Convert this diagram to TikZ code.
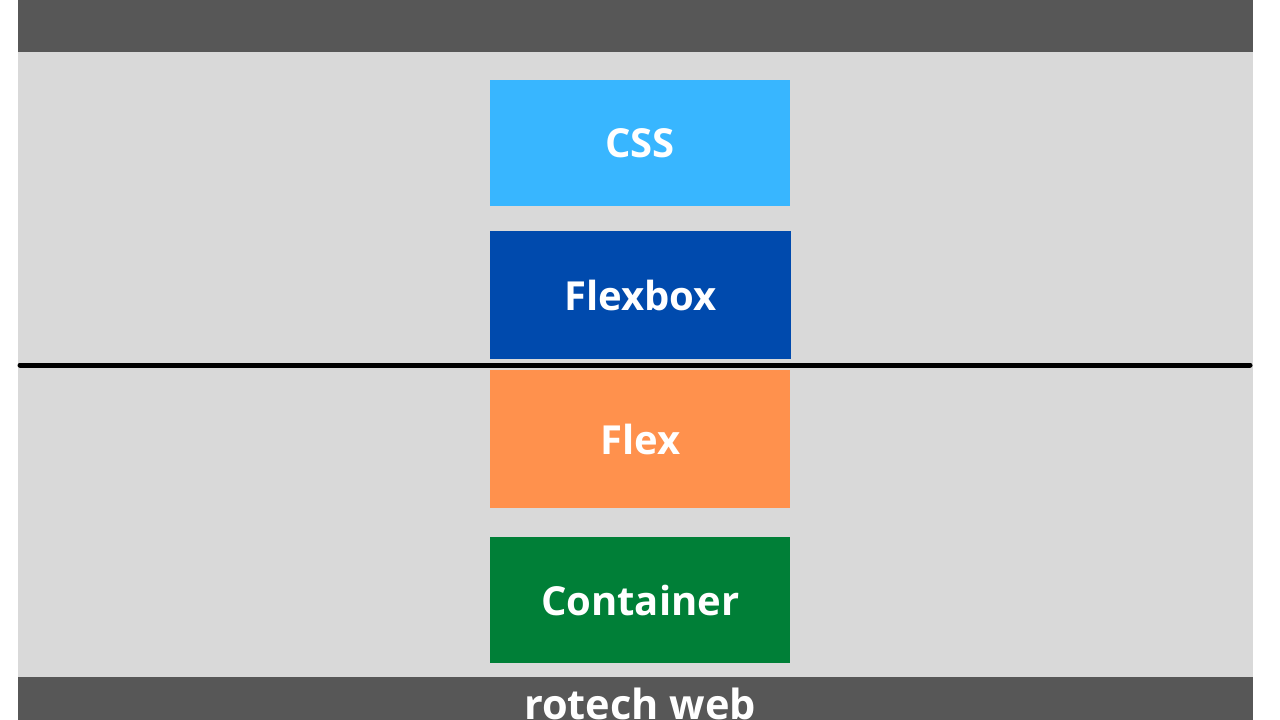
\documentclass[tikz,border=0pt]{standalone}
\usepackage{fontspec}
\setmainfont{Open Sans}
\begin{document}
\begin{tikzpicture}[x=1pt,y=-1pt,
  box/.style={draw=none,minimum width=300pt,anchor=north west,inner sep=0pt,text=white,font=\fontsize{40}{40}\selectfont\bfseries}]
\definecolor{dark}{HTML}{575757}
\definecolor{light}{HTML}{D9D9D9}
\definecolor{cssc}{HTML}{38B6FF}
\definecolor{flexboxc}{HTML}{004AAD}
\definecolor{flexc}{HTML}{FF914D}
\definecolor{contc}{HTML}{007F37}
\useasboundingbox (0,0) rectangle (1280,720);
\fill[white] (0,0) rectangle (1280,720);
\fill[light] (18,52) rectangle (1253,677);
\fill[dark] (18,0) rectangle (1253,52);
\fill[dark] (18,677) rectangle (1253,720);
\node[box,fill=cssc,minimum height=126pt] (css) at (490,80) {CSS};
\node[box,fill=flexboxc,minimum width=301pt,minimum height=128pt] (flexbox) at (490,231) {Flexbox};
\node[box,fill=flexc,minimum height=138pt] (flex) at (490,370) {Flex};
\node[box,fill=contc,minimum height=126pt] (cont) at (490,537) {Container};
\draw[line width=5pt,line cap=round] (20,365) -- (1250,365);
\begin{scope}
\clip (18,677) rectangle (1253,720);
\node[text=white,font=\fontsize{41.5}{42}\selectfont\bfseries] (brand) at (640,704) {rotech web};
\end{scope}
\end{tikzpicture}
\end{document}
